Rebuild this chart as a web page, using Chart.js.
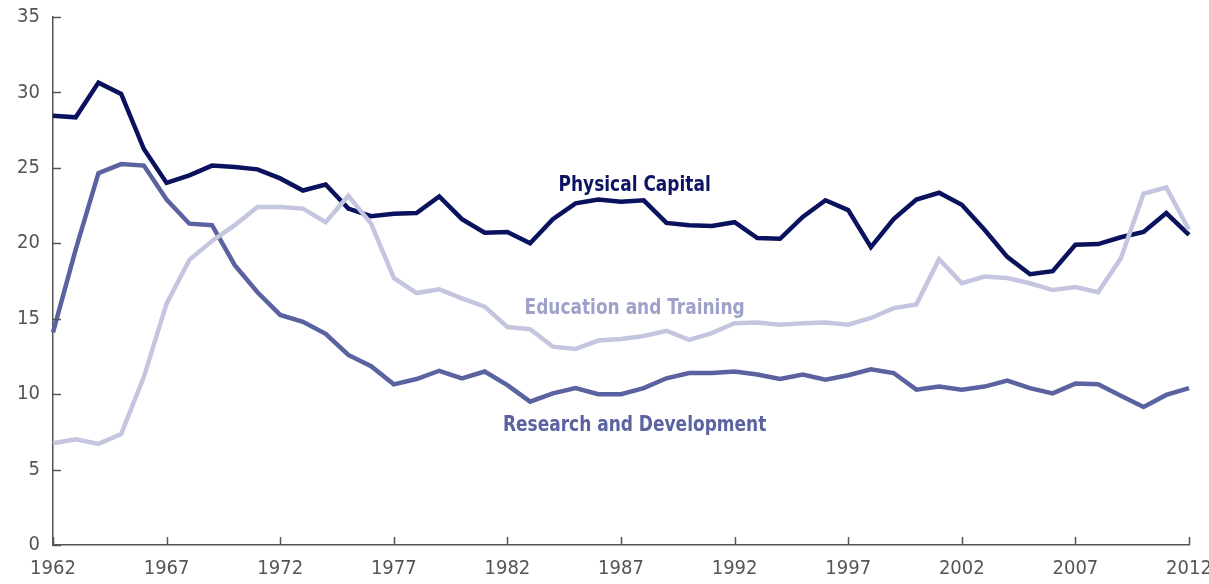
<!DOCTYPE html>
<html>
<head>
<meta charset="utf-8">
<script src="https://cdn.jsdelivr.net/npm/chart.js@4/dist/chart.umd.min.js"></script>
<style>
  html, body { margin: 0; padding: 0; background: #fff; }
  #wrap { width: 1209px; height: 584px; }
</style>
</head>
<body>
<div id="wrap"><canvas id="chart"></canvas></div>
<script>
//************ data ************
const years = [];
for (let y = 1962; y <= 2012; y++) years.push(String(y));

const physicalCapital = [
  28.45, 28.35, 30.65, 29.9, 26.25, 24.0, 24.5, 25.15, 25.05, 24.9,
  24.3, 23.5, 23.9, 22.3, 21.8, 21.95, 22.0, 23.1, 21.6, 20.7,
  20.75, 20.0, 21.6, 22.65, 22.9, 22.75, 22.85, 21.35, 21.2, 21.15,
  21.4, 20.35, 20.3, 21.75, 22.85, 22.2, 19.75, 21.6, 22.9, 23.35,
  22.55, 20.9, 19.1, 17.95, 18.15, 19.9, 19.95, 20.4, 20.75, 22.0,
  20.55
];
const educationTraining = [
  6.75, 7.0, 6.7, 7.35, 11.15, 16.0, 18.9, 20.15, 21.2, 22.4,
  22.4, 22.3, 21.4, 23.15, 21.3, 17.7, 16.7, 16.95, 16.35, 15.8,
  14.45, 14.3, 13.15, 13.0, 13.55, 13.65, 13.85, 14.2, 13.6, 14.05,
  14.7, 14.75, 14.6, 14.7, 14.75, 14.6, 15.05, 15.7, 15.95, 18.95,
  17.35, 17.8, 17.7, 17.35, 16.9, 17.1, 16.75, 19.0, 23.3, 23.7,
  20.9
];
const researchDevelopment = [
  14.1, 19.6, 24.65, 25.25, 25.15, 22.9, 21.3, 21.2, 18.55, 16.75,
  15.25, 14.8, 14.0, 12.6, 11.85, 10.65, 11.0, 11.55, 11.05, 11.5,
  10.6, 9.5, 10.05, 10.4, 10.0, 10.0, 10.4, 11.05, 11.4, 11.4,
  11.5, 11.3, 11.0, 11.3, 10.95, 11.25, 11.65, 11.4, 10.3, 10.5,
  10.3, 10.5, 10.9, 10.4, 10.05, 10.7, 10.65, 9.9, 9.15, 9.95,
  10.4
];
const yTicks = [0, 5, 10, 15, 20, 25, 30, 35];

// series labels: [text, year, value, colour]
const seriesLabels = [
  ['Physical Capital', 1987.6, 23.85, '#0d1563'],
  ['Education and Training', 1987.6, 15.7, '#9ea2cb'],
  ['Research and Development', 1987.6, 7.95, '#5a63a0']
];

//************ style ************
const axisColor = '#555555';
const fontFamily = '"Liberation Sans Narrow", "DejaVu Sans Condensed", sans-serif';
const tickFont = { family: fontFamily, size: 20 };

// draws the short inward tick marks and the series names
const decorations = {
  id: 'decorations',
  afterDatasetsDraw(chart) {
    const ctx = chart.ctx;
    const xs = chart.scales.x;
    const ys = chart.scales.y;
    const area = chart.chartArea;
    ctx.save();
    ctx.strokeStyle = axisColor;
    ctx.lineWidth = 1.5;
    yTicks.forEach(v => {
      const py = Math.round(ys.getPixelForValue(v)) + 0.5;
      ctx.beginPath();
      ctx.moveTo(area.left, py);
      ctx.lineTo(area.left + 8, py);
      ctx.stroke();
    });
    years.forEach((yr, i) => {
      if ((Number(yr) - 1962) % 5 !== 0) return;
      const px = Math.round(xs.getPixelForValue(i)) + 0.5;
      ctx.beginPath();
      ctx.moveTo(px, area.bottom);
      ctx.lineTo(px, area.bottom - 8);
      ctx.stroke();
    });
    ctx.font = 'bold 21px ' + fontFamily;
    ctx.textAlign = 'center';
    ctx.textBaseline = 'middle';
    seriesLabels.forEach(([txt, yr, val, col]) => {
      ctx.save();
      ctx.translate(xs.getPixelForValue(yr - 1962), ys.getPixelForValue(val));
      ctx.scale(0.9, 1);
      ctx.fillStyle = col;
      ctx.fillText(txt, 0, 0);
      ctx.restore();
    });
    ctx.restore();
  }
};

const makeSet = (label, data, color) => ({
  label: label,
  data: data,
  borderColor: color,
  backgroundColor: color,
  borderWidth: 4.5,
  pointRadius: 0,
  tension: 0,
  fill: false
});

new Chart(document.getElementById('chart'), {
  type: 'line',
  data: {
    labels: years,
    datasets: [
      makeSet('Education and Training', educationTraining, '#c3c6de'),
      makeSet('Research and Development', researchDevelopment, '#5a63a0'),
      makeSet('Physical Capital', physicalCapital, '#0a125e')
    ]
  },
  options: {
    responsive: true,
    maintainAspectRatio: false,
    animation: false,
    layout: { padding: { top: 17, right: 20, left: 0, bottom: 0 } },
    plugins: { legend: { display: false }, tooltip: { enabled: false } },
    scales: {
      x: {
        type: 'category',
        offset: false,
        grid: { display: false, drawTicks: false },
        border: { display: true, color: axisColor, width: 1.5 },
        ticks: {
          autoSkip: false,
          maxRotation: 0,
          color: axisColor,
          font: tickFont,
          padding: 12,
          callback: function (v, i) { return (i % 5 === 0) ? years[i] : ''; }
        },
        afterFit(scale) {
          scale.height = 39;
          scale.paddingLeft = 0;
          scale.paddingRight = 0;
        }
      },
      y: {
        min: 0,
        max: 35,
        grid: { display: false, drawTicks: false },
        border: { display: true, color: axisColor, width: 1.5 },
        ticks: { stepSize: 5, color: axisColor, font: tickFont, padding: 13 },
        afterFit(scale) {
          scale.width = 53;
          scale.paddingTop = 0;
          scale.paddingBottom = 0;
        }
      }
    }
  },
  plugins: [decorations]
});
</script>
</body>
</html>
